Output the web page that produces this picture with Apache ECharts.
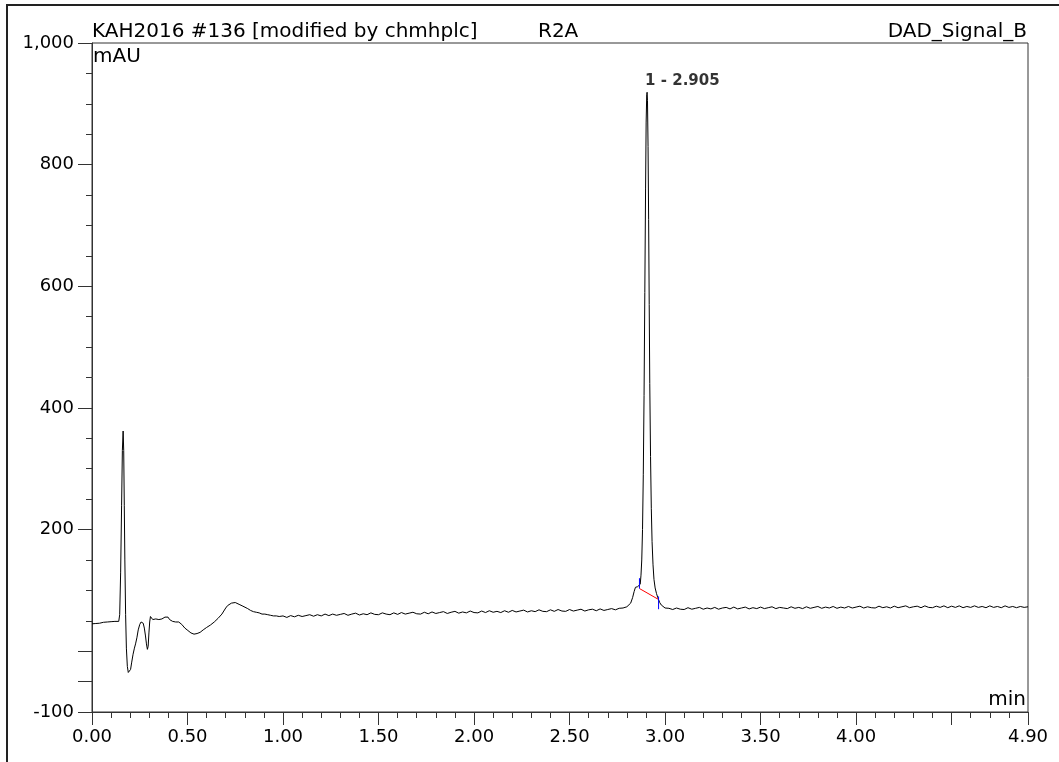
<!DOCTYPE html>
<html>
<head>
<meta charset="utf-8">
<script src="https://cdn.jsdelivr.net/npm/echarts@6/dist/echarts.min.js"></script>
<style>
html,body{margin:0;padding:0;background:#fff;}
#chart{width:1059px;height:762px;}
</style>
</head>
<body>
<div id="chart"></div>
<script>
// ---- Data (time in min, signal in mAU) ----
const signalEarly = [
  [0.00,45],[0.01,46],[0.02,45.5],[0.03,46.5],[0.04,46],[0.05,47],[0.06,47.5],[0.07,47],[0.08,48],[0.09,47.5],
  [0.10,48.5],[0.11,48],[0.12,49],[0.13,48.5],[0.14,49],
  [0.145,60],[0.150,130],[0.155,240],[0.159,330],[0.163,362],[0.166,330],[0.169,240],[0.172,150],[0.176,60],
  [0.180,5],[0.185,-25],[0.190,-35],[0.196,-36],[0.202,-30],[0.208,-18],[0.215,-5],[0.222,5],[0.228,12],
  [0.235,22],[0.242,35],[0.250,44],[0.257,48],[0.263,48],[0.268,46],[0.274,38],[0.280,25],[0.285,12],
  [0.290,3],[0.294,8],[0.298,30],[0.302,48],[0.306,57],[0.312,55],[0.318,52],[0.326,51],[0.334,53],
  [0.342,51],[0.350,52],[0.358,54],[0.366,53],[0.374,55],[0.382,56],[0.390,57],[0.398,56],[0.406,52],
  [0.414,51],[0.422,49],[0.430,50],[0.438,48],[0.446,49],[0.454,48],[0.462,47],[0.470,44],[0.478,41],
  [0.486,38],[0.494,36],[0.502,34],[0.510,32],[0.518,30],[0.526,29],[0.534,28],[0.542,28],[0.550,29],
  [0.558,30],[0.566,31],[0.574,33],[0.582,35],[0.590,37],[0.600,39],[0.610,41],[0.620,43],[0.630,45],
  [0.640,48],[0.650,51],[0.660,54],[0.670,57],[0.680,61],[0.690,66],[0.700,71],[0.710,75],[0.720,77],
  [0.730,79],[0.740,80],[0.750,80],[0.760,79],[0.770,77],[0.780,76],[0.790,74],[0.800,72],[0.815,70],
  [0.830,67],[0.845,65],[0.860,64],[0.875,63],[0.890,61],[0.905,61],[0.920,60],[0.935,59],[0.950,58],
  [0.965,58],[0.980,57]
];
const signalMid = [
  [1.00,58],[1.02,55.5],[1.04,58.5],[1.06,56.5],[1.08,59],[1.10,57],[1.12,58.5],[1.14,60],[1.16,57.5],[1.18,60],
  [1.20,58],[1.22,61],[1.24,58.5],[1.26,61],[1.28,59],[1.30,60.5],[1.32,62],[1.34,59],[1.36,61],[1.38,62.5],
  [1.40,59.5],[1.42,61.5],[1.44,60],[1.46,63],[1.48,60.5],[1.50,60],[1.52,63],[1.54,61],[1.56,60],[1.58,63],
  [1.60,60.5],[1.62,63.5],[1.64,61],[1.66,62.5],[1.68,64],[1.70,61.5],[1.72,61],[1.74,64],[1.76,61.5],[1.78,64.5],
  [1.80,62],[1.82,63.5],[1.84,65],[1.86,62],[1.88,64],[1.90,65.5],[1.92,62.5],[1.94,64.5],[1.96,63],[1.98,66],
  [2.00,63.5],[2.02,63],[2.04,66],[2.06,63.5],[2.08,66.5],[2.10,64],[2.12,65.5],[2.14,63.5],[2.16,66.5],[2.18,64],
  [2.20,67],[2.22,64.5],[2.24,66],[2.26,67.5],[2.28,64.5],[2.30,66.5],[2.32,65],[2.34,68],[2.36,65.5],[2.38,65],
  [2.40,68],[2.42,65.5],[2.44,68.5],[2.46,66],[2.48,65.5],[2.50,68.5],[2.52,66],[2.54,67.5],[2.56,69],[2.58,66],
  [2.60,68],[2.62,69],[2.64,66.5],[2.66,69.5],[2.68,67],[2.70,68.5],[2.72,70],[2.74,68],[2.76,70.5],[2.78,71]
];
const signalPeak = [
  [2.800,73],[2.810,75],[2.820,79],[2.830,88],[2.838,98],[2.845,105],[2.850,107],[2.856,106],[2.862,103],
  [2.866,104],[2.870,110],[2.874,125],[2.878,150],[2.882,200],[2.886,290],[2.890,420],[2.894,590],
  [2.898,760],[2.901,870],[2.904,915],[2.906,919],[2.908,905],[2.911,830],[2.914,710],[2.917,570],
  [2.920,440],[2.924,320],[2.928,235],[2.932,180],[2.937,142],[2.942,118],[2.948,104],[2.955,95],
  [2.962,88],[2.966,85],[2.972,80],[2.980,76],[2.990,73],[3.000,71]
];
const signalLate = [
  [3.02,70.5],[3.04,68.5],[3.06,71],[3.08,69],[3.10,68.5],[3.12,71.5],[3.14,69],[3.16,70.5],[3.18,72],[3.20,69],
  [3.22,71],[3.24,69.5],[3.26,72],[3.28,69],[3.30,71],[3.32,72],[3.34,69.5],[3.36,72.5],[3.38,69.5],[3.40,71],
  [3.42,72.5],[3.44,69.5],[3.46,71.5],[3.48,70],[3.50,72.5],[3.52,70],[3.54,71.5],[3.56,73],[3.58,70],[3.60,72],
  [3.62,71],[3.64,70],[3.66,73],[3.68,70.5],[3.70,72],[3.72,70],[3.74,73],[3.76,70.5],[3.78,72],[3.80,73.5],
  [3.82,70.5],[3.84,72.5],[3.86,71],[3.88,73.5],[3.90,70.5],[3.92,72.5],[3.94,71],[3.96,73.5],[3.98,71],[4.00,72.5],
  [4.02,74],[4.04,71],[4.06,73],[4.08,71.5],[4.10,71],[4.12,74],[4.14,71.5],[4.16,73],[4.18,71],[4.20,74],
  [4.22,71.5],[4.24,73],[4.26,74.5],[4.28,71.5],[4.30,73],[4.32,74],[4.34,71.5],[4.36,74.5],[4.38,72],[4.40,71.5],
  [4.42,74],[4.44,72],[4.46,74.5],[4.48,71.5],[4.50,74],[4.52,72],[4.54,74.5],[4.56,71.5],[4.58,73.5],[4.60,72],
  [4.62,74.5],[4.64,72],[4.66,73.5],[4.68,71.5],[4.70,74.5],[4.72,72],[4.74,73.5],[4.76,71.5],[4.78,74.5],[4.80,72],
  [4.82,73.5],[4.84,71.5],[4.86,73.5],[4.88,72],[4.90,73]
];
// integration baseline (red) and peak delimiters (blue)
const integrationBaseline = [[2.866,103],[2.966,85]];
const peakStartMarker = [[2.866,103],[2.866,120]];
const peakEndMarker = [[2.966,69],[2.966,90]];
const peakApex = [[2.906,919]];
const peakName = '1 - 2.905';

// ticks / labels
const xLabelValues = [0,0.5,1.0,1.5,2.0,2.5,3.0,3.5,4.0,4.9];
const xMajorTicks = [0,0.5,1.0,1.5,2.0,2.5,3.0,3.5,4.0,4.5,4.9];
const yLabelValues = [-100,200,400,600,800,1000];
const yMajorTicks = [-100,-50,0,200,400,600,800,1000];

const titleLeft = 'KAH2016 #136 [modified by chmhplc]';
const titleMid = 'R2A';
const titleRight = 'DAD_Signal_B';
const yUnit = 'mAU';
const xUnit = 'min';

const signal = signalEarly.concat(signalMid, signalPeak, signalLate);

const FONT = '"DejaVu Sans", "Liberation Sans", Arial, sans-serif';
const axisColor = '#333';

const chart = echarts.init(document.getElementById('chart'), null, {renderer: 'canvas'});
const option = {
  animation: false,
  backgroundColor: '#fff',
  grid: {left: 92, right: 31, top: 43, bottom: 50, show: true, borderColor: axisColor, borderWidth: 1, backgroundColor: 'transparent'},
  xAxis: [
    {
      type: 'value', min: 0, max: 4.9, interval: 0.1, position: 'bottom',
      axisLine: {show: true, onZero: false, lineStyle: {color: axisColor, width: 1}},
      axisTick: {show: true, length: 6, lineStyle: {color: axisColor}},
      axisLabel: {
        show: true, customValues: xLabelValues, margin: 16,
        color: '#000', fontFamily: FONT, fontSize: 18,
        formatter: v => Number(v).toFixed(2)
      },
      splitLine: {show: false}
    },
    {
      type: 'value', min: 0, max: 4.9, position: 'bottom',
      axisLine: {show: false, onZero: false},
      axisTick: {show: true, length: 13, customValues: xMajorTicks, lineStyle: {color: axisColor}},
      axisLabel: {show: false},
      splitLine: {show: false}
    }
  ],
  yAxis: [
    {
      type: 'value', min: -100, max: 1000, interval: 50, position: 'left',
      axisLine: {show: true, onZero: false, lineStyle: {color: axisColor, width: 1}},
      axisTick: {show: true, length: 6, lineStyle: {color: axisColor}},
      axisLabel: {
        show: true, customValues: yLabelValues, margin: 18,
        color: '#000', fontFamily: FONT, fontSize: 18,
        formatter: v => Number(v).toLocaleString('en-US')
      },
      splitLine: {show: false}
    },
    {
      type: 'value', min: -100, max: 1000, position: 'left',
      axisLine: {show: false, onZero: false},
      axisTick: {show: true, length: 14, customValues: yMajorTicks, lineStyle: {color: axisColor}},
      axisLabel: {show: false},
      splitLine: {show: false}
    }
  ],
  series: [
    {
      type: 'line', data: signal, xAxisIndex: 0, yAxisIndex: 0,
      showSymbol: false, symbol: 'none', smooth: false,
      lineStyle: {color: '#000', width: 1}, silent: true, z: 3
    },
    {
      type: 'line', data: integrationBaseline, showSymbol: false, symbol: 'none',
      lineStyle: {color: '#ff0000', width: 1}, silent: true, z: 4
    },
    {
      type: 'line', data: peakStartMarker, showSymbol: false, symbol: 'none',
      lineStyle: {color: '#0000ff', width: 1}, silent: true, z: 4
    },
    {
      type: 'line', data: peakEndMarker, showSymbol: false, symbol: 'none',
      lineStyle: {color: '#0000ff', width: 1}, silent: true, z: 4
    },
    {
      type: 'scatter', data: peakApex, symbolSize: 0, silent: true, z: 5,
      label: {
        show: true, position: [-2, -11], align: 'left', verticalAlign: 'middle',
        formatter: () => peakName,
        color: '#000', fontFamily: FONT, fontSize: 15, fontWeight: 'bold'
      }
    }
  ],
  graphic: [
    {type: 'rect', shape: {x: 7, y: 5, width: 1200, height: 1000}, style: {fill: 'none', stroke: '#222', lineWidth: 2}, silent: true, z: 0},
    {type: 'text', x: 92, y: 32, style: {text: titleLeft, fill: '#000', font: '20px ' + FONT, align: 'left', verticalAlign: 'middle'}, silent: true},
    {type: 'text', x: 538, y: 32, style: {text: titleMid, fill: '#000', font: '20px ' + FONT, align: 'left', verticalAlign: 'middle'}, silent: true},
    {type: 'text', x: 1027, y: 32, style: {text: titleRight, fill: '#000', font: '20px ' + FONT, align: 'right', verticalAlign: 'middle'}, silent: true},
    {type: 'text', x: 93, y: 57, style: {text: yUnit, fill: '#000', font: '20px ' + FONT, align: 'left', verticalAlign: 'middle'}, silent: true},
    {type: 'text', x: 1026, y: 700, style: {text: xUnit, fill: '#000', font: '20px ' + FONT, align: 'right', verticalAlign: 'middle'}, silent: true}
  ]
};
chart.setOption(option);
</script>
</body>
</html>
